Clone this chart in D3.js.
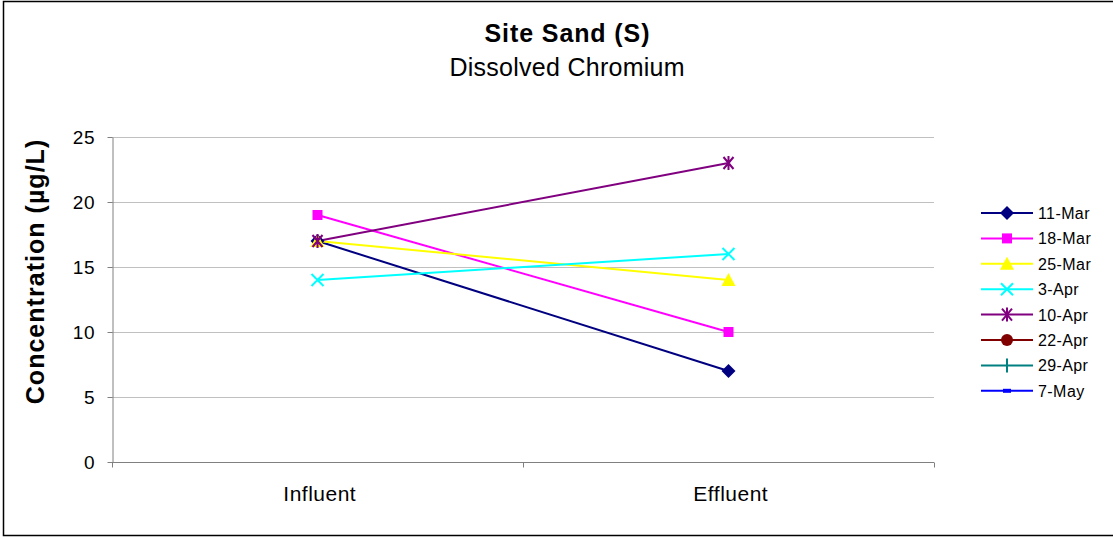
<!DOCTYPE html>
<html><head><meta charset="utf-8">
<script src="https://cdn.jsdelivr.net/npm/d3@7"></script>
<style>body{margin:0;background:#fff}svg{display:block;font-family:"Liberation Sans",Arial,sans-serif}</style>
</head><body><svg id="c" width="1113" height="537"></svg>
<script>
const categories = ["Influent", "Effluent"];
const seriesNames = ["11-Mar","18-Mar","25-Mar","3-Apr","10-Apr","22-Apr","29-Apr","7-May"];
const s11Mar = [17, 7];
const s18Mar = [19, 10];
const s25Mar = [17, 14];
const s3Apr = [14, 16];
const s10Apr = [17, 23];
const s22Apr = [];
const s29Apr = [];
const s7May = [];
const yTicks = [0, 5, 10, 15, 20, 25];
const colors = ["#000080","#FF00FF","#FFFF00","#00FFFF","#800080","#800000","#008080","#0000FF"];
const markers = ["diamond","square","triangle","x","star","circle","plus","dash"];
const seriesValues = [s11Mar,s18Mar,s25Mar,s3Apr,s10Apr,s22Apr,s29Apr,s7May];

const svg = d3.select("#c");
const L = 112, R = 934, T = 137, B = 462;
const x = d3.scaleBand().domain(categories).range([L, R]);
const y = d3.scaleLinear().domain([0, 25]).range([B, T]);

function stretch(sel, k){
  sel.each(function(){
    const w = this.getComputedTextLength();
    d3.select(this).attr("textLength", w*k).attr("lengthAdjust","spacing");
  });
}

// outer border
svg.append("rect").attr("x",3.5).attr("y",1.5).attr("width",1113).attr("height",534)
  .attr("fill","none").attr("stroke","#000").attr("stroke-width",1.5);

// gridlines
svg.append("g").selectAll("line").data(yTicks.filter(d=>d>0)).join("line")
  .attr("x1",L).attr("x2",R).attr("y1",d=>Math.round(y(d))+0.5).attr("y2",d=>Math.round(y(d))+0.5)
  .attr("stroke","#c0c0c0").attr("stroke-width",1);

// y axis
const yAxis = svg.append("g").attr("transform",`translate(${L+0.5},0)`)
  .call(d3.axisLeft(y).tickValues(yTicks).tickSize(5).tickSizeOuter(0).tickPadding(13));
yAxis.select(".domain").attr("stroke","#808080");
yAxis.selectAll(".tick line").attr("stroke","#808080");
yAxis.selectAll("text").attr("font-size",19).attr("fill","#000").attr("dy","0.34em")
  .attr("font-family","Liberation Sans, Arial, sans-serif");
stretch(yAxis.selectAll("text"), 1.03);

// x axis
const xAxis = svg.append("g").attr("transform",`translate(0,${B+0.5})`);
xAxis.append("line").attr("x1",L).attr("x2",R).attr("stroke","#808080");
const bounds = [L, ...categories.map(c=>x(c)+x.bandwidth())];
xAxis.selectAll(".tk").data(bounds).join("line").attr("class","tk")
  .attr("x1",d=>Math.round(d)+0.5).attr("x2",d=>Math.round(d)+0.5).attr("y1",0).attr("y2",5).attr("stroke","#808080");
const xl = xAxis.selectAll("text").data(categories).join("text")
  .attr("x",d=>x(d)+x.bandwidth()/2+2).attr("y",38).attr("text-anchor","middle")
  .attr("font-size",21).text(d=>d);
stretch(xl, 1.05);

// title
const t1 = svg.append("text").attr("x",567).attr("y",42).attr("text-anchor","middle")
  .attr("font-size",25).attr("font-weight","bold").text("Site Sand (S)");
stretch(t1, 1.07);
const t2 = svg.append("text").attr("x",567).attr("y",76).attr("text-anchor","middle")
  .attr("font-size",25).text("Dissolved Chromium");
stretch(t2, 1.02);

// y label
const yl = svg.append("text").attr("transform","translate(44,272) rotate(-90)").attr("text-anchor","middle")
  .attr("font-size",25).attr("font-weight","bold").text("Concentration (µg/L)");
stretch(yl, 1.08);

function drawMarker(g, type, cx, cy, color){
  const s = 6;
  if(type==="diamond") g.append("path").attr("d",`M${cx},${cy-s-1}L${cx+s+1},${cy}L${cx},${cy+s+1}L${cx-s-1},${cy}Z`).attr("fill",color);
  else if(type==="square") g.append("rect").attr("x",cx-5).attr("y",cy-5).attr("width",10).attr("height",10).attr("fill",color);
  else if(type==="triangle") g.append("path").attr("d",`M${cx},${cy-7}L${cx+7},${cy+6}L${cx-7},${cy+6}Z`).attr("fill",color);
  else if(type==="x") g.append("path").attr("d",`M${cx-6},${cy-6}L${cx+6},${cy+6}M${cx+6},${cy-6}L${cx-6},${cy+6}`).attr("stroke",color).attr("stroke-width",2);
  else if(type==="star") g.append("path").attr("d",`M${cx-5},${cy-6}L${cx+5},${cy+6}M${cx+5},${cy-6}L${cx-5},${cy+6}M${cx},${cy-7}L${cx},${cy+7}`).attr("stroke",color).attr("stroke-width",2);
  else if(type==="circle") g.append("circle").attr("cx",cx).attr("cy",cy).attr("r",6).attr("fill",color);
  else if(type==="plus") g.append("path").attr("d",`M${cx},${cy-7}L${cx},${cy+7}`).attr("stroke",color).attr("stroke-width",2);
  else if(type==="dash") g.append("rect").attr("x",cx-4).attr("y",cy-2).attr("width",8).attr("height",4).attr("fill",color);
}

const line = d3.line().x((d,i)=>x(categories[i])+x.bandwidth()/2).y(d=>y(d));
seriesValues.forEach((vals,k)=>{
  if(!vals.length) return;
  svg.append("path").attr("d",line(vals)).attr("fill","none").attr("stroke",colors[k]).attr("stroke-width",2);
});
seriesValues.forEach((vals,k)=>{
  const g = svg.append("g");
  vals.forEach((v,i)=>drawMarker(g, markers[k], x(categories[i])+x.bandwidth()/2, y(v), colors[k]));
});

// legend
const lg = svg.append("g");
seriesNames.forEach((n,k)=>{
  const ly = 213 + k*25.4;
  lg.append("line").attr("x1",981).attr("x2",1033).attr("y1",ly).attr("y2",ly).attr("stroke",colors[k]).attr("stroke-width",2);
  drawMarker(lg, markers[k], 1007, ly, colors[k]);
  const t = lg.append("text").attr("x",1038).attr("y",ly+6).attr("font-size",16).text(n);
  stretch(t, 1.04);
});
</script></body></html>
